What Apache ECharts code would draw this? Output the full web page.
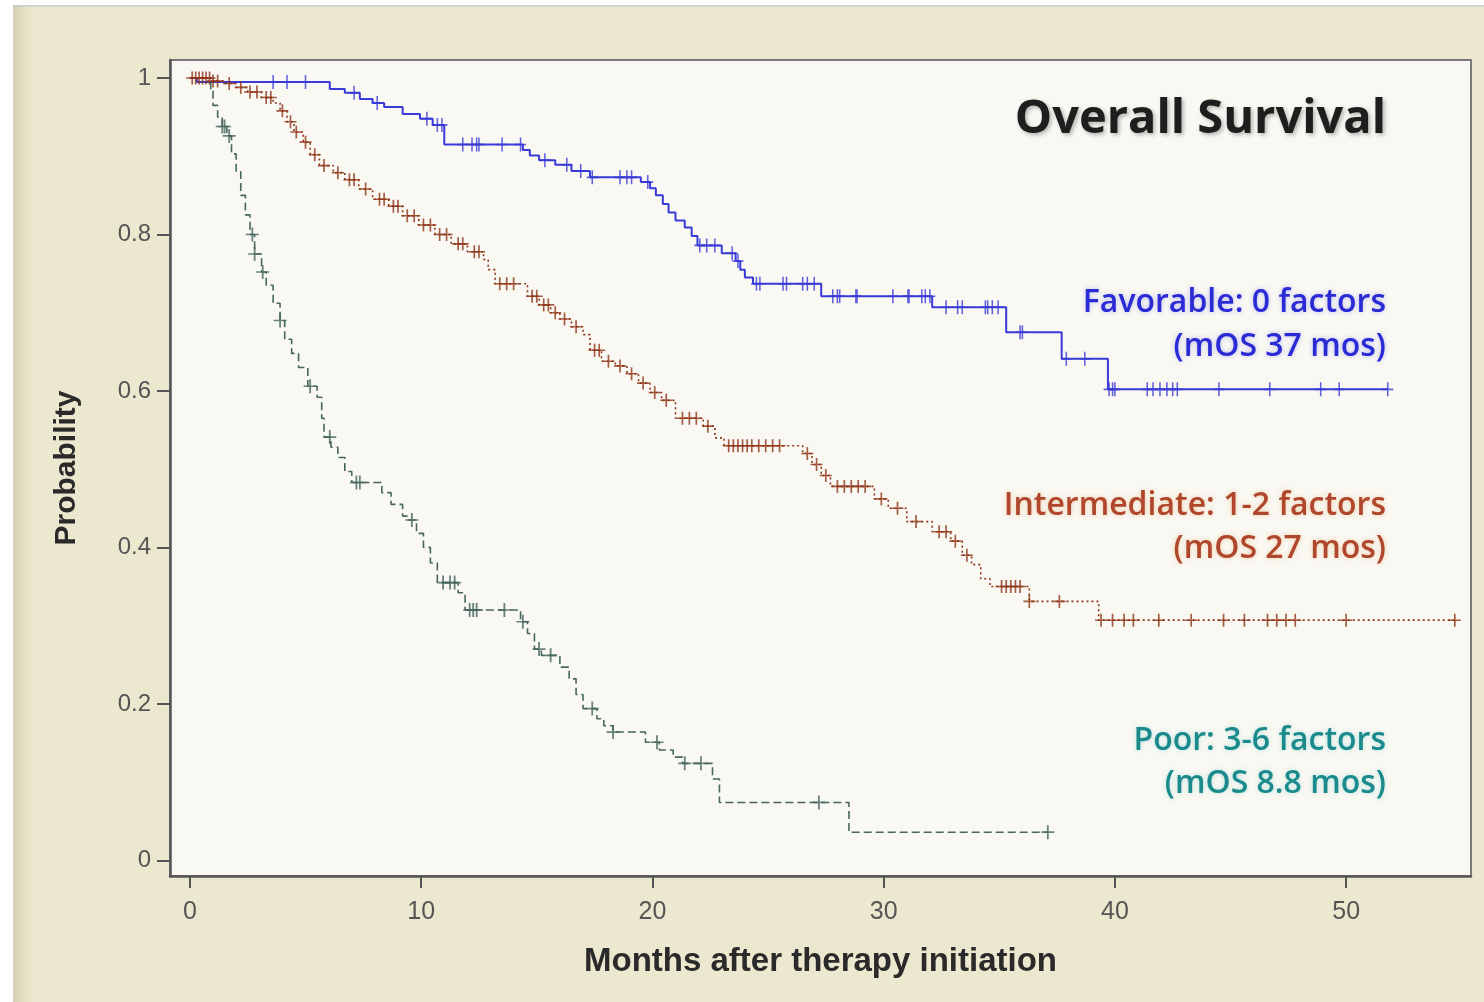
<!DOCTYPE html>
<html>
<head>
<meta charset="utf-8">
<title>Overall Survival</title>
<script src="https://cdn.jsdelivr.net/npm/echarts@6/dist/echarts.min.js"></script>
<style>
  html, body { margin: 0; padding: 0; background: #ffffff; }
  #chart { width: 1484px; height: 1002px; }
</style>
</head>
<body>
<div id="chart"></div>
<script>
// Kaplan-Meier overall survival by risk group: [month, survival after event]
const favorableSteps = [
  [0, 1], [0.3, 0.995], [6.05, 0.986], [6.7, 0.981], [7.35, 0.973], [7.9, 0.968],
  [8.4, 0.963], [9.2, 0.954], [9.95, 0.948], [10.5, 0.940], [11.0, 0.915],
  [14.4, 0.908], [14.7, 0.901], [15.1, 0.895], [15.8, 0.889], [16.5, 0.881],
  [17.3, 0.873], [19.5, 0.867], [19.9, 0.859], [20.15, 0.850], [20.45, 0.839],
  [20.7, 0.828], [21.0, 0.818], [21.4, 0.809], [21.7, 0.798], [21.95, 0.786],
  [23.0, 0.776], [23.6, 0.766], [23.8, 0.755], [24.0, 0.745], [24.35, 0.737],
  [27.3, 0.721], [32.1, 0.707], [35.3, 0.675], [37.7, 0.641], [39.7, 0.602]
];
const favorableEnd = 51.8;
const favorableCensored = [
  3.6, 4.2, 5.0, 7.1, 8.1, 10.25, 10.7, 10.9, 11.8, 12.2, 12.4, 12.5, 13.5, 14.3,
  15.35, 16.3, 16.9, 17.4, 18.6, 18.9, 19.1, 19.8, 22.05, 22.35, 22.7, 23.45, 23.7,
  24.5, 24.65, 25.65, 25.8, 26.5, 26.7, 27.0, 27.8, 28.0, 28.1, 28.8, 28.85, 30.4,
  31.05, 31.1, 31.65, 31.8, 32.0, 32.7, 33.2, 33.4, 34.4, 34.5, 34.7, 34.95, 35.9,
  36.0, 37.9, 38.7, 39.75, 39.9, 40.0, 41.4, 41.65, 41.95, 42.25, 42.5, 42.7, 44.5,
  46.7, 48.9, 49.7, 51.8
];

const intermediateSteps = [
  [0, 1], [0.9, 0.996], [1.5, 0.993], [2.0, 0.988], [2.5, 0.982], [3.1, 0.975],
  [3.6, 0.968], [3.9, 0.958], [4.2, 0.944], [4.5, 0.931], [4.9, 0.918], [5.2, 0.902],
  [5.6, 0.888], [6.2, 0.879], [6.7, 0.870], [7.3, 0.858], [7.9, 0.845], [8.6, 0.836],
  [9.2, 0.824], [9.9, 0.812], [10.6, 0.800], [11.3, 0.788], [12.0, 0.778],
  [12.7, 0.768], [12.9, 0.755], [13.2, 0.737], [14.6, 0.721], [15.1, 0.710],
  [15.6, 0.700], [16.0, 0.692], [16.5, 0.682], [17.0, 0.672], [17.3, 0.652],
  [17.8, 0.638], [18.4, 0.632], [18.9, 0.622], [19.4, 0.610], [19.9, 0.598],
  [20.4, 0.588], [21.0, 0.565], [22.2, 0.555], [22.7, 0.540], [23.1, 0.530],
  [26.5, 0.520], [26.9, 0.506], [27.3, 0.492], [27.7, 0.478], [29.6, 0.462],
  [30.2, 0.450], [31.0, 0.433], [32.1, 0.420], [32.9, 0.408], [33.4, 0.390],
  [33.8, 0.378], [34.2, 0.360], [34.6, 0.350], [36.3, 0.331], [39.3, 0.307]
];
const intermediateEnd = 54.8;
const intermediateCensored = [
  0.1, 0.25, 0.4, 0.55, 0.7, 0.85, 1.0, 1.2, 1.7, 2.2, 2.6, 2.9, 3.3, 3.5, 4.0, 4.35,
  4.6, 5.0, 5.4, 5.8, 6.4, 6.9, 7.1, 7.6, 8.2, 8.4, 8.8, 9.0, 9.4, 9.7, 10.1, 10.4,
  10.8, 11.1, 11.6, 11.8, 12.3, 12.5, 13.4, 13.7, 14.0, 14.8, 15.0, 15.3, 15.5, 15.8,
  16.2, 16.7, 17.5, 17.7, 18.1, 18.6, 19.1, 19.6, 20.1, 20.6, 21.3, 21.6, 21.9, 22.4,
  23.3, 23.5, 23.7, 23.9, 24.1, 24.3, 24.6, 24.9, 25.2, 25.5, 26.7, 27.1, 27.5, 28.0,
  28.3, 28.6, 28.9, 29.2, 29.9, 30.6, 31.4, 32.4, 32.7, 33.1, 33.6, 35.1, 35.3, 35.5,
  35.7, 35.9, 36.3, 37.6, 39.4, 39.9, 40.4, 40.8, 41.9, 43.3, 44.7, 45.6, 46.6, 47.0,
  47.4, 47.8, 50.0, 54.7
];

const poorSteps = [
  [0, 1], [0.9, 0.985], [1.0, 0.965], [1.2, 0.950], [1.4, 0.938], [1.6, 0.926],
  [1.8, 0.903], [2.0, 0.880], [2.2, 0.850], [2.4, 0.825], [2.6, 0.800], [2.8, 0.775],
  [3.1, 0.752], [3.3, 0.735], [3.6, 0.712], [3.9, 0.690], [4.1, 0.666], [4.4, 0.648],
  [4.7, 0.630], [5.1, 0.606], [5.5, 0.592], [5.7, 0.565], [5.8, 0.541], [6.1, 0.528],
  [6.4, 0.515], [6.7, 0.497], [7.0, 0.483], [8.3, 0.470], [8.7, 0.455], [9.2, 0.440],
  [9.4, 0.435], [9.8, 0.418], [10.1, 0.400], [10.4, 0.380], [10.7, 0.355],
  [11.6, 0.342], [11.9, 0.320], [14.3, 0.305], [14.6, 0.290], [14.9, 0.270],
  [15.2, 0.262], [16.0, 0.247], [16.4, 0.232], [16.7, 0.212], [17.0, 0.194],
  [17.6, 0.181], [17.9, 0.172], [18.3, 0.164], [19.7, 0.151], [20.3, 0.141],
  [20.9, 0.132], [21.3, 0.124], [22.6, 0.104], [22.9, 0.074], [28.5, 0.036]
];
const poorEnd = 37.1;
const poorCensored = [
  1.4, 1.5, 1.7, 2.7, 2.8, 3.15, 3.9, 5.2, 6.05, 7.2, 7.35, 9.6, 10.95, 11.25, 11.45,
  12.1, 12.25, 12.4, 13.6, 14.4, 15.1, 15.6, 17.4, 18.3, 20.2, 21.4, 22.1, 27.2, 37.1
];

const xTickValues = [0, 10, 20, 30, 40, 50];
const yTickValues = [0, 0.2, 0.4, 0.6, 0.8, 1];

const chartTitle = 'Overall Survival';
const groupLabels = [
  ['Favorable: 0 factors', '(mOS 37 mos)'],
  ['Intermediate: 1-2 factors', '(mOS 27 mos)'],
  ['Poor: 3-6 factors', '(mOS 8.8 mos)']
];

// step curve ends flat at the last follow-up time
function curveData(steps, end) {
  const d = steps.map(p => [p[0], p[1]]);
  d.push([end, steps[steps.length - 1][1]]);
  return d;
}
// survival value of a step curve at time t (censor ticks sit on the curve)
function survivalAt(steps, t) {
  let s = steps[0][1];
  for (const p of steps) {
    if (p[0] <= t) s = p[1]; else break;
  }
  return s;
}
function censorData(steps, times) {
  return times.map(t => [t, survivalAt(steps, t)]);
}

const PLUS = 'path://M4.3,0H5.7V4.4H10V5.6H5.7V10H4.3V5.6H0V4.4H4.3Z';

const colFav = '#3a3ad8';
const colInt = '#8e3518';
const colPoor = '#46665f';

const chart = echarts.init(document.getElementById('chart'), null, { renderer: 'canvas' });

const labelFont = '"Open Sans", Lato, sans-serif';
const axisFont = '"Liberation Sans", Arial, sans-serif';

function groupText(text, top, fill, glow) {
  return {
    type: 'text', right: 1484 - 1386, top: top, z: 10, silent: true,
    style: { text: text, font: '600 32px ' + labelFont, fill: fill,
      textShadowColor: glow, textShadowBlur: 5 }
  };
}

chart.setOption({
  backgroundColor: '#ece8cf',
  animation: false,
  grid: {
    left: 170, top: 60, right: 13, bottom: 126,
    show: true,
    backgroundColor: '#f9f8f2',
    borderColor: '#7a7a7a',
    borderWidth: 2
  },
  xAxis: {
    type: 'value',
    min: -0.86, max: 55.4,
    name: 'Months after therapy initiation',
    nameLocation: 'middle',
    nameGap: 69,
    nameTextStyle: { fontFamily: axisFont, fontWeight: 'bold', fontSize: 33, color: '#2a2a2a' },
    axisLine: { show: true, onZero: false, lineStyle: { color: '#555', width: 2.5 } },
    axisTick: { show: true, customValues: xTickValues, length: 12, lineStyle: { color: '#555', width: 2 } },
    axisLabel: { customValues: xTickValues, margin: 24, fontSize: 25, color: '#555', fontFamily: axisFont },
    splitLine: { show: false }
  },
  yAxis: {
    type: 'value',
    min: -0.02, max: 1.023,
    name: 'Probability',
    nameLocation: 'middle',
    nameGap: 88,
    nameTextStyle: { fontFamily: axisFont, fontWeight: 'bold', fontSize: 30, color: '#2a2a2a' },
    axisLine: { show: true, onZero: false, lineStyle: { color: '#555', width: 2.5 } },
    axisTick: { show: true, customValues: yTickValues, length: 13, lineStyle: { color: '#555', width: 2 } },
    axisLabel: {
      customValues: yTickValues, margin: 19, fontSize: 24, color: '#555',
      fontFamily: axisFont,
      formatter: v => String(Math.round(v * 10) / 10)
    },
    splitLine: { show: false }
  },
  graphic: [
    { type: 'rect', left: 0, top: 0, shape: { width: 13, height: 1002 }, style: { fill: '#ffffff' }, silent: true },
    { type: 'rect', left: 0, top: 0, shape: { width: 1484, height: 5 }, style: { fill: '#ffffff' }, silent: true },
    { type: 'rect', left: 13, top: 5, shape: { width: 1471, height: 1.5 }, style: { fill: '#c9ccd6' }, silent: true },
    {
      type: 'rect', left: 13, top: 6, shape: { width: 26, height: 996 }, silent: true,
      style: { fill: new echarts.graphic.LinearGradient(0, 0, 1, 0, [
        { offset: 0, color: 'rgba(190,184,150,0.55)' }, { offset: 1, color: 'rgba(236,232,207,0)' }
      ]) }
    },
    {
      type: 'text', right: 1484 - 1386, top: 96, z: 10, silent: true,
      style: { text: chartTitle, font: 'bold 47px ' + labelFont, fill: '#1e1e1e',
        textShadowColor: 'rgba(90,90,90,0.45)', textShadowBlur: 4, textShadowOffsetX: 2, textShadowOffsetY: 2 }
    },
    groupText(groupLabels[0][0], 287, '#2b2bd6', 'rgba(120,120,230,0.5)'),
    groupText(groupLabels[0][1], 331, '#2b2bd6', 'rgba(120,120,230,0.5)'),
    groupText(groupLabels[1][0], 490, '#b0462b', 'rgba(230,170,110,0.55)'),
    groupText(groupLabels[1][1], 533, '#b0462b', 'rgba(230,170,110,0.55)'),
    groupText(groupLabels[2][0], 725, '#1a8a8c', 'rgba(120,200,200,0.5)'),
    groupText(groupLabels[2][1], 768, '#1a8a8c', 'rgba(120,200,200,0.5)')
  ],
  series: [
    {
      name: 'Favorable', type: 'line', step: 'end', showSymbol: false, z: 3,
      data: curveData(favorableSteps, favorableEnd),
      lineStyle: { color: colFav, width: 2 }
    },
    {
      name: 'Favorable censored', type: 'scatter', symbol: PLUS, symbolSize: [11, 14], z: 4,
      data: censorData(favorableSteps, favorableCensored),
      itemStyle: { color: colFav }
    },
    {
      name: 'Intermediate', type: 'line', step: 'end', showSymbol: false, z: 3,
      data: curveData(intermediateSteps, intermediateEnd),
      lineStyle: { color: colInt, width: 1.6, type: [2, 3] }
    },
    {
      name: 'Intermediate censored', type: 'scatter', symbol: PLUS, symbolSize: [12, 13], z: 4,
      data: censorData(intermediateSteps, intermediateCensored),
      itemStyle: { color: colInt }
    },
    {
      name: 'Poor', type: 'line', step: 'end', showSymbol: false, z: 3,
      data: curveData(poorSteps, poorEnd),
      lineStyle: { color: colPoor, width: 1.6, type: [8, 4] }
    },
    {
      name: 'Poor censored', type: 'scatter', symbol: PLUS, symbolSize: [13, 14], z: 4,
      data: censorData(poorSteps, poorCensored),
      itemStyle: { color: colPoor }
    }
  ]
});
</script>
</body>
</html>
